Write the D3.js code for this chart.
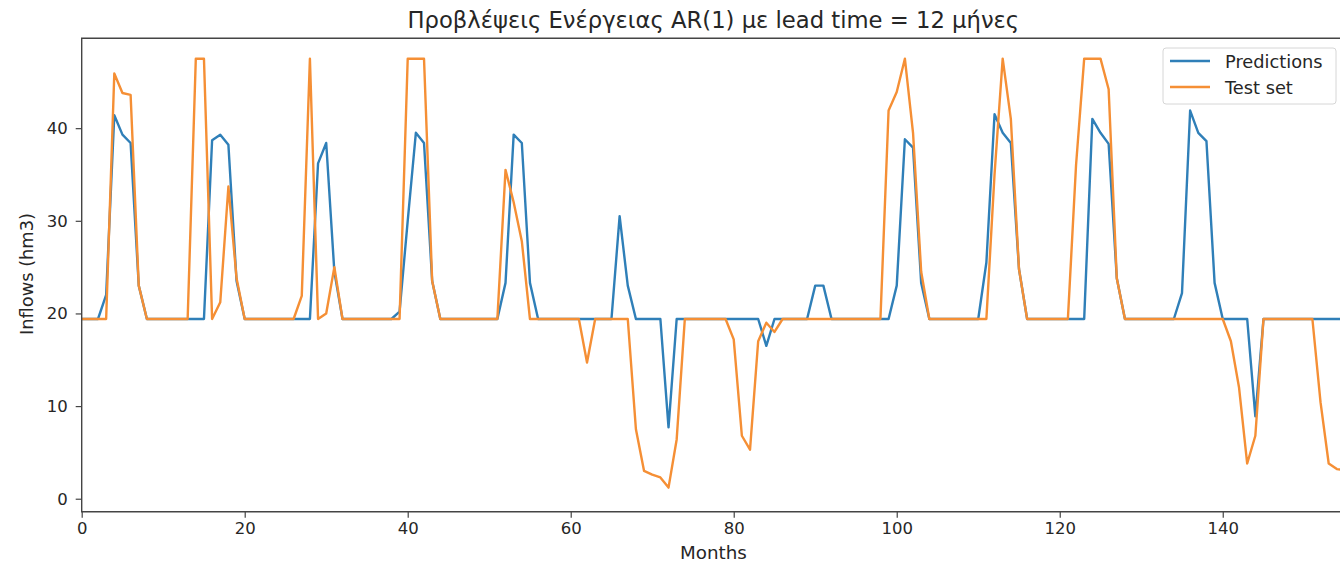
<!DOCTYPE html>
<html>
<head>
<meta charset="utf-8">
<script src="https://cdn.jsdelivr.net/npm/d3@7"></script>
<style>
  body { margin: 0; background: #fff; }
  svg text { font-family: "DejaVu Sans", sans-serif; fill: #262626; }
</style>
</head>
<body>
<svg id="chart" width="1340" height="564"></svg>
<script>
// values, one per month (0..155)
var predictions = [
  19.4,19.4,19.4,22.0,41.4,39.3,38.4,23.0,19.4,19.4,
  19.4,19.4,19.4,19.4,19.4,19.4,38.7,39.3,38.2,23.5,
  19.4,19.4,19.4,19.4,19.4,19.4,19.4,19.4,19.4,36.2,
  38.4,24.5,19.4,19.4,19.4,19.4,19.4,19.4,19.4,20.2,
  30.0,39.5,38.4,23.5,19.4,19.4,19.4,19.4,19.4,19.4,
  19.4,19.4,23.3,39.3,38.4,23.3,19.4,19.4,19.4,19.4,
  19.4,19.4,19.4,19.4,19.4,19.4,30.5,23.0,19.4,19.4,
  19.4,19.4,7.7,19.4,19.4,19.4,19.4,19.4,19.4,19.4,
  19.4,19.4,19.4,19.4,16.5,19.4,19.4,19.4,19.4,19.4,
  23.0,23.0,19.4,19.4,19.4,19.4,19.4,19.4,19.4,19.4,
  23.0,38.8,37.9,23.3,19.4,19.4,19.4,19.4,19.4,19.4,
  19.4,25.5,41.5,39.5,38.4,24.8,19.4,19.4,19.4,19.4,
  19.4,19.4,19.4,19.4,41.0,39.5,38.3,23.8,19.4,19.4,
  19.4,19.4,19.4,19.4,19.4,22.2,41.9,39.5,38.6,23.3,
  19.4,19.4,19.4,19.4,8.9,19.4,19.4,19.4,19.4,19.4,
  19.4,19.4,19.4,19.4,19.4,19.4
]

var testSet = [
  19.4,19.4,19.4,19.4,45.9,43.8,43.6,23.0,19.4,19.4,
  19.4,19.4,19.4,19.4,47.5,47.5,19.4,21.2,33.7,23.8,
  19.4,19.4,19.4,19.4,19.4,19.4,19.4,21.9,47.5,19.4,
  20.0,25.0,19.4,19.4,19.4,19.4,19.4,19.4,19.4,19.4,
  47.5,47.5,47.5,23.5,19.4,19.4,19.4,19.4,19.4,19.4,
  19.4,19.4,35.5,32.0,27.8,19.4,19.4,19.4,19.4,19.4,
  19.4,19.4,14.7,19.4,19.4,19.4,19.4,19.4,7.5,3.0,
  2.6,2.3,1.2,6.4,19.4,19.4,19.4,19.4,19.4,19.4,
  17.2,6.8,5.3,17.0,19.0,18.0,19.4,19.4,19.4,19.4,
  19.4,19.4,19.4,19.4,19.4,19.4,19.4,19.4,19.4,41.9,
  43.9,47.5,39.5,24.5,19.4,19.4,19.4,19.4,19.4,19.4,
  19.4,19.4,35.0,47.5,41.0,24.8,19.4,19.4,19.4,19.4,
  19.4,19.4,36.0,47.5,47.5,47.5,44.2,23.8,19.4,19.4,
  19.4,19.4,19.4,19.4,19.4,19.4,19.4,19.4,19.4,19.4,
  19.4,17.0,12.0,3.8,6.8,19.4,19.4,19.4,19.4,19.4,
  19.4,19.4,10.4,3.8,3.2,3.1
]

var xTicks = [0, 20, 40, 60, 80, 100, 120, 140]
var yTicks = [0, 10, 20, 30, 40]
var seriesNames = ['Predictions', 'Test set']
var seriesColors = ['#2f7fb8', '#f58f35']

function drawChart() {
  // plot box (right spine sits just outside the picture)
  var pLeft = 81.7, pTop = 38.3, pRight = 1345, pBottom = 511.7

  var svg = d3.select('#chart')

  var x = d3.scaleLinear().domain([0, 155]).range([pLeft, pRight])
  var y = d3.scaleLinear().domain([-1.4, 49.7]).range([pBottom, pTop])

  svg.append('defs').append('clipPath').attr('id', 'plotclip')
    .append('rect')
    .attr('x', pLeft).attr('y', pTop)
    .attr('width', pRight - pLeft).attr('height', pBottom - pTop)

  var line = d3.line()
    .x(function (d, i) { return x(i) })
    .y(function (d) { return y(d) })

  var plot = svg.append('g').attr('clip-path', 'url(#plotclip)')

  // predictions first, test set drawn on top
  ;[predictions, testSet].forEach(function (vals, k) {
    plot.append('path')
      .datum(vals)
      .attr('fill', 'none')
      .attr('stroke', seriesColors[k])
      .attr('stroke-width', 2.4)
      .attr('stroke-linejoin', 'round')
      .attr('d', line)
  })

  // axes
  var xAxis = svg.append('g')
    .attr('transform', 'translate(0,' + pBottom + ')')
    .call(d3.axisBottom(x).tickValues(xTicks).tickSize(6).tickPadding(5))
  var yAxis = svg.append('g')
    .attr('transform', 'translate(' + pLeft + ',0)')
    .call(d3.axisLeft(y).tickValues(yTicks).tickSize(6).tickPadding(8))

  ;[xAxis, yAxis].forEach(function (a) {
    a.select('.domain').remove()
    a.selectAll('line').attr('stroke', '#444').attr('stroke-width', 1.2)
    a.selectAll('text').style('font-size', '16.5px').attr('fill', '#262626')
  })

  svg.append('path')
    .attr('d', 'M' + pRight + ',' + pTop + 'H' + pLeft + 'V' + pBottom + 'H' + pRight)
    .attr('fill', 'none')
    .attr('stroke', '#444')
    .attr('stroke-width', 1.4)

  // titles
  svg.append('text')
    .attr('x', (pLeft + pRight) / 2).attr('y', 28)
    .attr('text-anchor', 'middle')
    .style('font-size', '22.7px')
    .text('Προβλέψεις Ενέργειας AR(1) με lead time = 12 μήνες')

  svg.append('text')
    .attr('x', (pLeft + pRight) / 2).attr('y', 559)
    .attr('text-anchor', 'middle')
    .style('font-size', '18.3px')
    .text('Months')

  svg.append('text')
    .attr('transform', 'translate(33,274) rotate(-90)')
    .attr('text-anchor', 'middle')
    .style('font-size', '17.8px')
    .text('Inflows (hm3)')

  // legend
  var legend = svg.append('g')
  legend.append('rect')
    .attr('x', 1163).attr('y', 48)
    .attr('width', 173).attr('height', 56)
    .attr('rx', 3)
    .attr('fill', '#fff').attr('fill-opacity', 0.85)
    .attr('stroke', '#d6d6d6')

  seriesNames.forEach(function (name, i) {
    var ly = 61 + i * 26
    legend.append('line')
      .attr('x1', 1170).attr('x2', 1210)
      .attr('y1', ly).attr('y2', ly)
      .attr('stroke', seriesColors[i]).attr('stroke-width', 2.4)
    legend.append('text')
      .attr('x', 1225).attr('y', ly + 6.5)
      .style('font-size', '17.8px')
      .text(name)
  })
}

drawChart()
</script>
</body>
</html>
